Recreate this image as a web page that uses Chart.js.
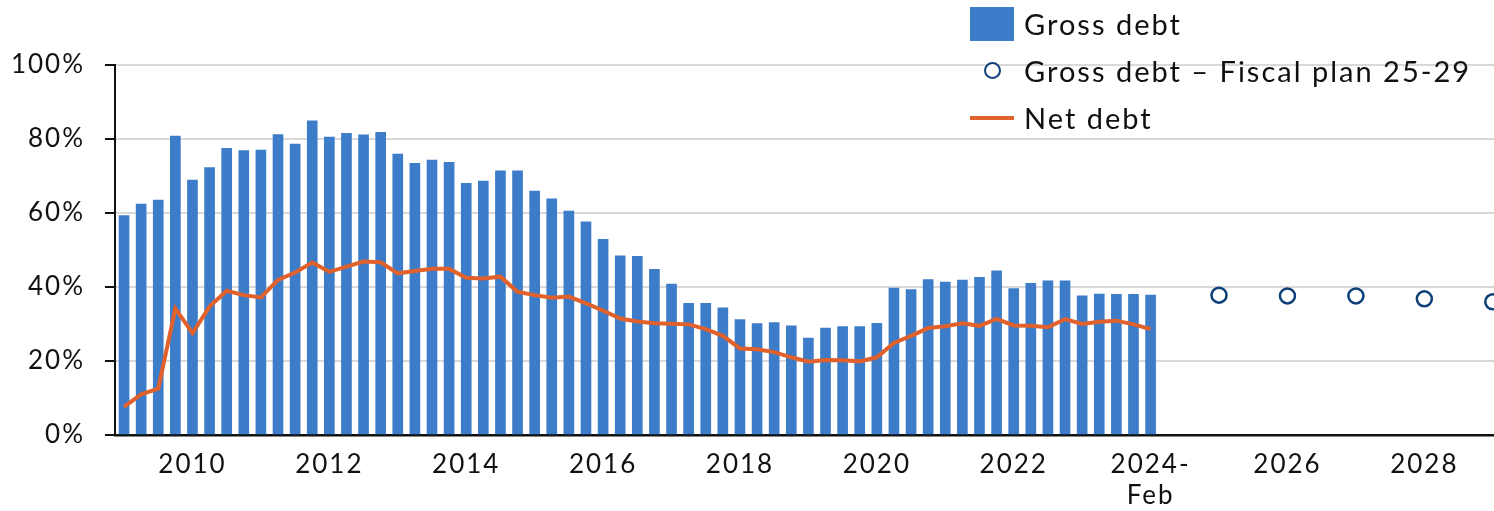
<!DOCTYPE html>
<html>
<head>
<meta charset="utf-8">
<title>Gross and net debt</title>
<script src="https://cdn.jsdelivr.net/npm/chart.js@4.4.1/dist/chart.umd.min.js"></script>
<style>
  html, body { margin: 0; padding: 0; background: #fff; }
  #wrap { position: relative; width: 1494px; height: 511px; }
  #legend { position: absolute; left: 970px; top: 0; font: 29px Lato, sans-serif; letter-spacing: 2px; color: #111; }
  .row { display: flex; align-items: center; height: 47px; white-space: nowrap; }
  .mark { width: 44px; height: 34px; margin-right: 10px; display: flex; align-items: center; justify-content: center; }
  .box { width: 44px; height: 34px; }
  .dot { border-radius: 50%; box-sizing: border-box; border: 2.5px solid; background: #fff; }
  .bar { width: 44px; height: 4px; }
</style>
</head>
<body>
<div id="wrap">
  <canvas id="debt-chart" width="1494" height="511"></canvas>
  <div id="legend"></div>
</div>
<script>
const quarters = [
  '2009Q1', '2009Q2', '2009Q3', '2009Q4', '2010Q1', '2010Q2', '2010Q3', '2010Q4',
  '2011Q1', '2011Q2', '2011Q3', '2011Q4', '2012Q1', '2012Q2', '2012Q3', '2012Q4',
  '2013Q1', '2013Q2', '2013Q3', '2013Q4', '2014Q1', '2014Q2', '2014Q3', '2014Q4',
  '2015Q1', '2015Q2', '2015Q3', '2015Q4', '2016Q1', '2016Q2', '2016Q3', '2016Q4',
  '2017Q1', '2017Q2', '2017Q3', '2017Q4', '2018Q1', '2018Q2', '2018Q3', '2018Q4',
  '2019Q1', '2019Q2', '2019Q3', '2019Q4', '2020Q1', '2020Q2', '2020Q3', '2020Q4',
  '2021Q1', '2021Q2', '2021Q3', '2021Q4', '2022Q1', '2022Q2', '2022Q3', '2022Q4',
  '2023Q1', '2023Q2', '2023Q3', '2023Q4', '2024Q1',
];

const grossDebt = [
  59.3, 62.4, 63.5, 80.8, 68.9, 72.3, 77.5, 76.9, 77.0, 81.2, 78.6, 84.9,
  80.5, 81.5, 81.1, 81.8, 75.9, 73.4, 74.3, 73.7, 68.0, 68.6, 71.4, 71.4,
  65.9, 63.8, 60.5, 57.6, 52.9, 48.4, 48.3, 44.8, 40.8, 35.6, 35.6, 34.4,
  31.2, 30.1, 30.4, 29.5, 26.2, 28.9, 29.3, 29.3, 30.2, 39.7, 39.3, 42.0,
  41.3, 41.9, 42.6, 44.4, 39.6, 41.0, 41.7, 41.7, 37.6, 38.1, 38.0, 38.0, 37.8,
];

const netDebt = [
  7.6, 11.0, 12.5, 34.2, 27.5, 34.7, 39.0, 37.8, 37.2, 41.9, 43.9, 46.6,
  44.1, 45.5, 46.9, 46.7, 43.7, 44.3, 44.9, 44.9, 42.5, 42.3, 42.8, 38.7,
  37.8, 37.1, 37.4, 35.6, 33.6, 31.5, 30.7, 30.2, 30.1, 29.9, 28.6, 26.8,
  23.4, 23.2, 22.4, 21.0, 19.8, 20.3, 20.2, 19.9, 21.0, 24.9, 26.8, 28.9,
  29.4, 30.2, 29.5, 31.4, 29.6, 29.5, 29.1, 31.3, 30.0, 30.6, 30.9, 29.9, 28.6,
];

const planYears = [2025, 2026, 2027, 2028, 2029];
const planDebt = [37.8, 37.6, 37.6, 36.8, 36.0];

const tickYears = [2010, 2012, 2014, 2016, 2018, 2020, 2022, 2024, 2026, 2028];
const tickLabels = ['2010', '2012', '2014', '2016', '2018', '2020', '2022', ['2024-', 'Feb'], '2026', '2028'];

const blue = '#3d7cc9';
const orange = '#e0612b';
const navy = '#0d3f78';

// quarter label -> position on a year axis
const quarterX = quarters.map(q => Number(q.slice(0, 4)) + (Number(q.slice(5)) - 1) / 4);

Chart.defaults.font.family = 'Lato, sans-serif';
Chart.defaults.color = '#111';

// source font is wider than Lato, widen the canvas text a little
const spacing = {
  id: 'spacing',
  beforeUpdate: c => { c.ctx.letterSpacing = '2px'; },
  beforeDraw: c => { c.ctx.letterSpacing = '2px'; },
};

const chart = new Chart(document.getElementById('debt-chart').getContext('2d'), {
  data: {
    datasets: [
      {
        type: 'line',
        label: 'Net debt',
        data: netDebt.map((v, i) => ({ x: quarterX[i], y: v })),
        borderColor: orange,
        borderWidth: 4,
        pointRadius: 0,
        tension: 0,
        order: 1,
      },
      {
        type: 'line',
        label: 'Gross debt \u2013 Fiscal plan 25-29',
        data: planDebt.map((v, i) => ({ x: planYears[i], y: v })),
        showLine: false,
        pointStyle: 'circle',
        pointRadius: 7.5,
        pointBorderWidth: 2.5,
        pointBorderColor: navy,
        pointBackgroundColor: '#fff',
        borderColor: navy,
        order: 0,
      },
      {
        type: 'bar',
        label: 'Gross debt',
        data: grossDebt.map((v, i) => ({ x: quarterX[i], y: v })),
        backgroundColor: blue,
        barThickness: 10,
        order: 2,
      },
    ],
  },
  options: {
    responsive: false,
    animation: false,
    layout: { autoPadding: false, padding: { top: 65, right: 0, bottom: 0, left: 0 } },
    plugins: {
      legend: { display: false },
      tooltip: { enabled: false },
    },
    scales: {
      x: {
        type: 'linear',
        offset: false,
        min: 2008.868,
        max: 2029.018,
        grid: { display: false, drawTicks: false },
        border: { display: true, color: '#111', width: 2.5 },
        afterBuildTicks: scale => {
          scale.ticks = tickYears.map(v => ({ value: v }));
        },
        afterFit: scale => {
          scale.height = 76;
          scale.paddingLeft = 0;
          scale.paddingRight = 0;
        },
        ticks: {
          autoSkip: false,
          maxRotation: 0,
          padding: 14,
          font: { size: 26 },
          callback: value => tickLabels[tickYears.indexOf(value)],
        },
      },
      y: {
        min: 0,
        max: 100,
        grid: { color: '#d9d9d9', lineWidth: 2, tickColor: '#111', tickLength: 10, tickWidth: 2 },
        border: { display: true, color: '#111', width: 2 },
        afterFit: scale => { scale.width = 115; },
        ticks: {
          stepSize: 20,
          padding: 20,
          font: { size: 26 },
          callback: value => value + '%',
        },
      },
    },
  },
  plugins: [spacing],
});

// legend drawn as html so it can sit over the plot like in the source chart
const legendOrder = ['Gross debt', 'Gross debt \u2013 Fiscal plan 25-29', 'Net debt'];
const legendEl = document.getElementById('legend');
legendOrder.forEach(name => {
  const ds = chart.data.datasets.find(d => d.label === name);
  const row = document.createElement('div');
  row.className = 'row';
  const mark = document.createElement('div');
  mark.className = 'mark';
  const sw = document.createElement('div');
  if (ds.type === 'bar') {
    sw.className = 'box';
    sw.style.background = ds.backgroundColor;
  } else if (ds.showLine === false) {
    sw.className = 'dot';
    sw.style.width = sw.style.height = '17px';
    sw.style.borderColor = ds.pointBorderColor;
  } else {
    sw.className = 'bar';
    sw.style.background = ds.borderColor;
  }
  mark.appendChild(sw);
  const text = document.createElement('span');
  text.textContent = ds.label;
  row.appendChild(mark);
  row.appendChild(text);
  legendEl.appendChild(row);
});
</script>
</body>
</html>
